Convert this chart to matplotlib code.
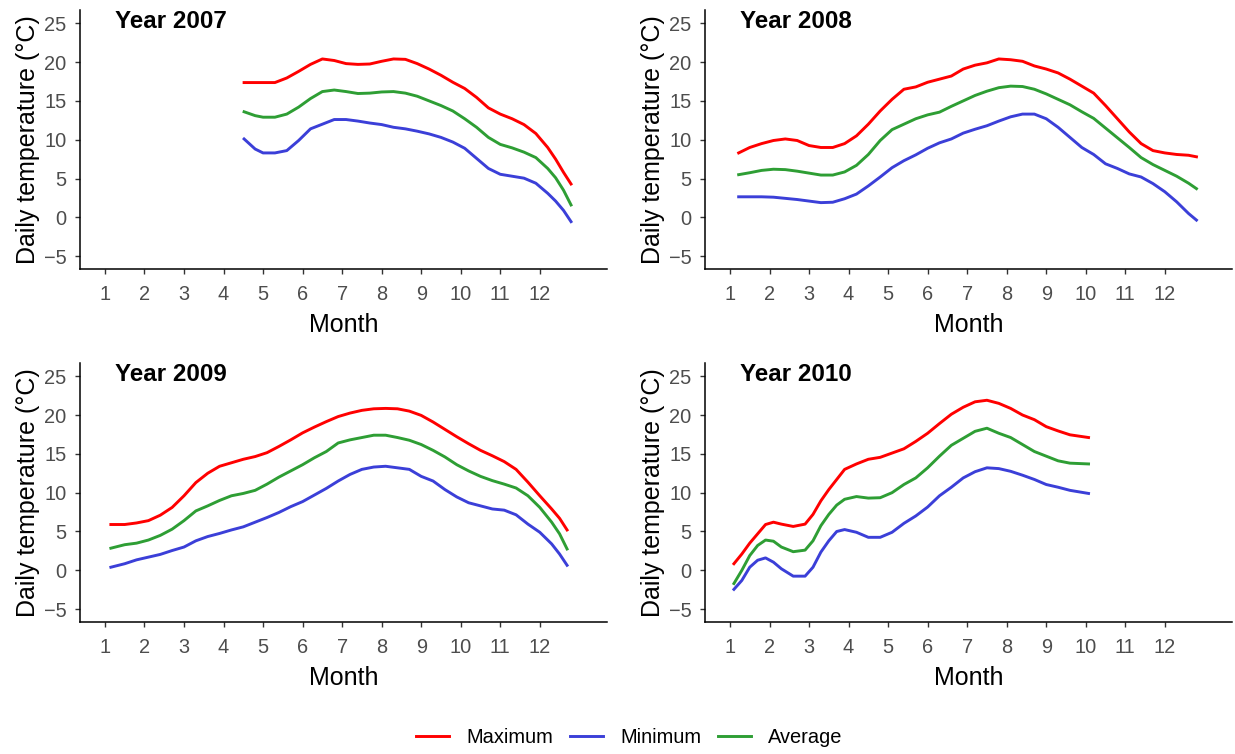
import numpy as np
import matplotlib.pyplot as plt

plt.rcParams['font.family'] = ['Liberation Sans', 'DejaVu Sans']

# smoothed daily temperature per year (month as decimal)
month_2007 = [4.52, 4.8, 5.0, 5.3, 5.6, 5.9, 6.2, 6.5, 6.8, 7.1, 7.4, 7.7, 8.0, 8.3, 8.6,
              8.9, 9.2, 9.5, 9.8, 10.1, 10.4, 10.7, 11.0, 11.3, 11.6, 11.9, 12.2, 12.4, 12.6, 12.79]
max_2007 = [17.36, 17.36, 17.36, 17.36, 17.95, 18.8, 19.7, 20.4, 20.2, 19.8, 19.7, 19.75, 20.1, 20.4, 20.35,
            19.8, 19.1, 18.3, 17.4, 16.6, 15.45, 14.1, 13.3, 12.7, 11.95, 10.8, 9.0, 7.5, 5.8, 4.3]
min_2007 = [10.1, 8.8, 8.3, 8.3, 8.6, 9.9, 11.4, 12.0, 12.6, 12.6, 12.4, 12.15, 11.95, 11.6, 11.4,
            11.1, 10.75, 10.3, 9.7, 8.9, 7.6, 6.3, 5.55, 5.3, 5.05, 4.4, 3.1, 2.1, 0.9, -0.55]
avg_2007 = [13.6, 13.1, 12.9, 12.9, 13.3, 14.2, 15.3, 16.2, 16.4, 16.2, 15.95, 16.0, 16.15, 16.2, 16.0,
            15.6, 15.0, 14.4, 13.7, 12.7, 11.6, 10.3, 9.4, 8.95, 8.4, 7.7, 6.3, 5.1, 3.5, 1.6]

month_2008 = [1.22, 1.5, 1.8, 2.1, 2.4, 2.7, 3.0, 3.3, 3.6, 3.9, 4.2, 4.5, 4.8, 5.1, 5.4, 5.7, 6.0, 6.3, 6.6, 6.9,
              7.2, 7.5, 7.8, 8.1, 8.4, 8.7, 9.0, 9.3, 9.6, 9.9, 10.2, 10.5, 10.8, 11.1, 11.4, 11.7, 12.0, 12.3, 12.6, 12.8]
max_2008 = [8.3, 9.0, 9.5, 9.9, 10.1, 9.9, 9.25, 9.0, 9.0, 9.5, 10.5, 12.0, 13.7, 15.2, 16.5, 16.8, 17.4, 17.8, 18.2, 19.1,
            19.6, 19.9, 20.4, 20.3, 20.1, 19.5, 19.1, 18.6, 17.8, 16.9, 16.0, 14.4, 12.7, 11.0, 9.5, 8.6, 8.3, 8.1, 8.0, 7.8]
min_2008 = [2.65, 2.65, 2.65, 2.6, 2.45, 2.3, 2.1, 1.9, 1.95, 2.4, 3.0, 4.05, 5.2, 6.4, 7.3, 8.05, 8.9, 9.6, 10.1, 10.85,
            11.35, 11.8, 12.4, 12.95, 13.3, 13.3, 12.7, 11.6, 10.3, 9.0, 8.1, 6.9, 6.3, 5.6, 5.2, 4.35, 3.3, 2.0, 0.5, -0.35]
avg_2008 = [5.5, 5.75, 6.05, 6.2, 6.15, 5.95, 5.7, 5.45, 5.45, 5.85, 6.7, 8.1, 9.9, 11.3, 12.0, 12.7, 13.2, 13.55, 14.3, 15.0,
            15.7, 16.25, 16.7, 16.9, 16.85, 16.5, 15.9, 15.2, 14.5, 13.6, 12.75, 11.5, 10.25, 9.0, 7.7, 6.8, 6.05, 5.3, 4.4, 3.7]

month_2009 = [1.15, 1.5, 1.8, 2.1, 2.4, 2.7, 3.0, 3.3, 3.6, 3.9, 4.2, 4.5, 4.8, 5.1, 5.4, 5.7, 6.0, 6.3, 6.6, 6.9,
              7.2, 7.5, 7.8, 8.1, 8.4, 8.7, 9.0, 9.3, 9.6, 9.9, 10.2, 10.5, 10.8, 11.1, 11.4, 11.7, 12.0, 12.3, 12.5, 12.69]
max_2009 = [5.9, 5.9, 6.1, 6.4, 7.1, 8.1, 9.6, 11.3, 12.5, 13.4, 13.85, 14.3, 14.65, 15.15, 15.95, 16.8, 17.7, 18.45, 19.15, 19.8,
            20.25, 20.6, 20.8, 20.85, 20.8, 20.5, 19.95, 19.1, 18.15, 17.2, 16.3, 15.45, 14.75, 14.0, 13.0, 11.35, 9.6, 7.9, 6.7, 5.2]
min_2009 = [0.4, 0.85, 1.35, 1.7, 2.05, 2.55, 3.0, 3.8, 4.35, 4.75, 5.2, 5.6, 6.2, 6.8, 7.45, 8.2, 8.85, 9.7, 10.55, 11.5,
            12.35, 13.0, 13.3, 13.4, 13.2, 13.0, 12.1, 11.5, 10.4, 9.45, 8.7, 8.3, 7.9, 7.75, 7.15, 5.95, 4.9, 3.4, 2.1, 0.65]
avg_2009 = [2.85, 3.3, 3.5, 3.9, 4.5, 5.3, 6.4, 7.65, 8.3, 9.0, 9.6, 9.9, 10.3, 11.1, 12.0, 12.8, 13.6, 14.5, 15.3, 16.4,
            16.8, 17.1, 17.4, 17.4, 17.1, 16.75, 16.2, 15.45, 14.6, 13.6, 12.8, 12.1, 11.55, 11.1, 10.6, 9.6, 8.1, 6.2, 4.7, 2.75]

month_2010 = [1.1, 1.3, 1.5, 1.7, 1.9, 2.1, 2.3, 2.6, 2.9, 3.1, 3.3, 3.5, 3.7, 3.9, 4.2, 4.5, 4.8,
              5.1, 5.4, 5.7, 6.0, 6.3, 6.6, 6.9, 7.2, 7.5, 7.8, 8.1, 8.4, 8.7, 9.0, 9.3, 9.6, 10.07]
max_2010 = [0.85, 2.1, 3.5, 4.7, 5.9, 6.2, 5.95, 5.65, 5.95, 7.2, 8.95, 10.4, 11.7, 13.0, 13.7, 14.3, 14.55,
            15.1, 15.65, 16.6, 17.65, 18.9, 20.1, 21.0, 21.7, 21.9, 21.5, 20.85, 20.0, 19.4, 18.5, 17.95, 17.45, 17.1]
min_2010 = [-2.45, -1.3, 0.4, 1.3, 1.6, 1.05, 0.2, -0.75, -0.75, 0.4, 2.35, 3.8, 5.0, 5.25, 4.9, 4.25, 4.25,
            4.9, 6.05, 7.0, 8.15, 9.6, 10.7, 11.9, 12.7, 13.2, 13.1, 12.75, 12.25, 11.7, 11.05, 10.7, 10.3, 9.9]
avg_2010 = [-1.7, 0.0, 1.9, 3.2, 3.9, 3.75, 3.0, 2.4, 2.6, 3.8, 5.75, 7.2, 8.4, 9.15, 9.5, 9.3, 9.35,
            10.0, 11.05, 11.9, 13.2, 14.7, 16.1, 17.0, 17.9, 18.3, 17.65, 17.1, 16.2, 15.3, 14.7, 14.1, 13.8, 13.7]

years = ['2007', '2008', '2009', '2010']
months = [month_2007, month_2008, month_2009, month_2010]
maxima = [max_2007, max_2008, max_2009, max_2010]
minima = [min_2007, min_2008, min_2009, min_2010]
averages = [avg_2007, avg_2008, avg_2009, avg_2010]

series_names = ['Maximum', 'Minimum', 'Average']
series_colors = ['#FF0000', '#3B3FD8', '#2E9E34']

fig = plt.figure(figsize=(12.35, 7.54), dpi=100)

# panel positions (left, bottom) in figure fraction
ax_w, ax_h = 0.4267, 0.3435
positions = [(0.0648, 0.6432), (0.5709, 0.6432), (0.0648, 0.1751), (0.5709, 0.1751)]

lines = []
for i, year in enumerate(years):
    ax = fig.add_axes([positions[i][0], positions[i][1], ax_w, ax_h])
    lines = []
    for vals, name, col in zip([maxima[i], minima[i], averages[i]], series_names, series_colors):
        ln, = ax.plot(months[i], vals, color=col, linewidth=2.1, label=name)
        lines.append(ln)

    ax.set_xlim(0.37, 13.7)
    ax.set_ylim(-6.65, 26.7)
    ax.set_xticks(np.arange(1, 13))
    ax.set_yticks(np.arange(-5, 26, 5))

    # classic theme: only left/bottom axis lines
    ax.spines['top'].set_visible(False)
    ax.spines['right'].set_visible(False)
    for s in ['left', 'bottom']:
        ax.spines[s].set_linewidth(1.1)
        ax.spines[s].set_color('black')
    ax.tick_params(axis='both', length=3.8, width=1.0, color='#333333',
                   labelsize=14.4, labelcolor='#4D4D4D')
    ax.tick_params(axis='x', pad=8)
    ax.tick_params(axis='y', pad=6)

    ax.set_xlabel('Month', fontsize=18, labelpad=6)
    ax.set_ylabel('Daily temperature (°C)', fontsize=18, labelpad=3)
    ax.text(0.066, 1.0, f'Year {year}', transform=ax.transAxes,
            fontsize=17.4, fontweight='bold', ha='left', va='top')

# legend di bawah
fig.legend(lines, series_names, loc='center', bbox_to_anchor=(0.5097, 0.0225), ncol=3,
           frameon=False, fontsize=14.4, handlelength=1.65, handletextpad=0.85,
           columnspacing=0.85)

plt.savefig('out.png', dpi=100)
